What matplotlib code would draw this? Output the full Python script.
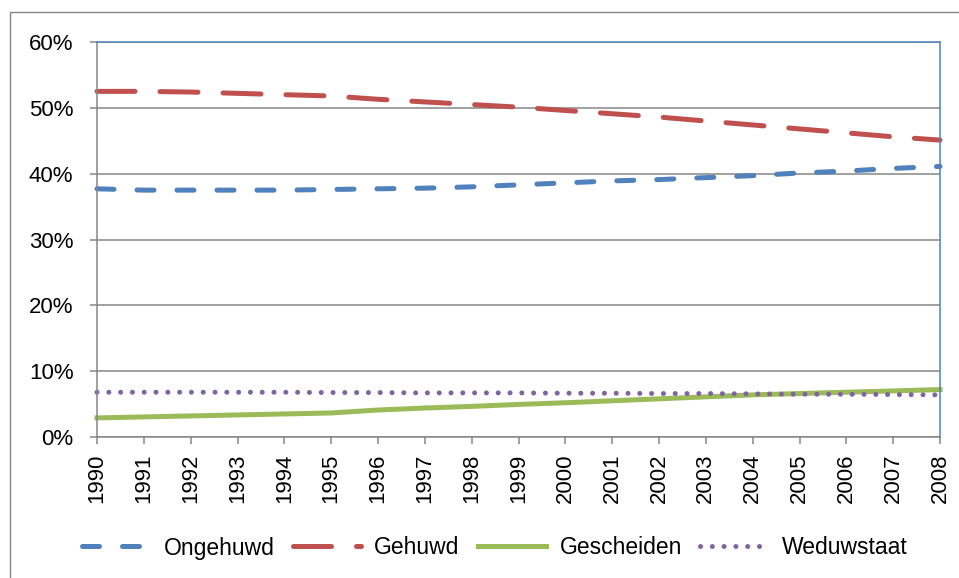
import matplotlib.pyplot as plt
from matplotlib.ticker import FuncFormatter
from matplotlib.patches import Rectangle

years = list(range(1990, 2009))
ongehuwd = [37.7, 37.5, 37.5, 37.5, 37.5, 37.6, 37.7, 37.8, 38.0, 38.3,
            38.6, 38.9, 39.1, 39.4, 39.7, 40.1, 40.4, 40.8, 41.1]
gehuwd = [52.5, 52.5, 52.4, 52.2, 52.0, 51.8, 51.3, 50.9, 50.5, 50.1,
          49.6, 49.1, 48.6, 48.0, 47.4, 46.8, 46.2, 45.6, 45.1]
gescheiden = [2.9, 3.05, 3.2, 3.35, 3.5, 3.65, 4.1, 4.4, 4.65, 4.95,
              5.2, 5.5, 5.8, 6.1, 6.4, 6.6, 6.8, 7.0, 7.2]
weduwstaat = [6.8, 6.8, 6.8, 6.8, 6.8, 6.75, 6.75, 6.7, 6.7, 6.7,
              6.65, 6.65, 6.6, 6.6, 6.55, 6.5, 6.5, 6.45, 6.4]

plt.rcParams['font.family'] = ['Liberation Sans', 'DejaVu Sans']

W, H = 959, 578
fig = plt.figure(figsize=(W / 100, H / 100), dpi=100)
ax = fig.add_axes([97 / W, 1 - 437 / H, (940 - 97) / W, (437 - 42) / H])

# outer chart border
fig.patches.append(Rectangle((10 / W, -0.1), 1.2, 1 - 12 / H + 0.1,
                             transform=fig.transFigure, fill=False,
                             edgecolor='#868686', linewidth=1))

lw = 3.6
l1, = ax.plot(years, ongehuwd, color='#4F81BD', lw=lw, label='Ongehuwd',
              dashes=(3.4, 4.6))
l2, = ax.plot(years, gehuwd, color='#C0504D', lw=lw, label='Gehuwd',
              dashes=(7.6, 5.0))
l3, = ax.plot(years, gescheiden, color='#9BBB59', lw=lw, label='Gescheiden')
l4, = ax.plot(years, weduwstaat, color='#8064A2', lw=lw, label='Weduwstaat',
              dashes=(0.01, 2.35))
for ln in (l1, l2, l4):
    ln.set_dash_capstyle('round')
for ln in (l1, l2, l3, l4):
    ln.set_clip_on(False)

ax.set_xlim(1990, 2008)
ax.set_ylim(0, 60)
ax.set_xticks(years)
ax.set_xticklabels([str(y) for y in years], rotation=90, fontsize=16)
ax.set_yticks(range(0, 61, 10))
ax.yaxis.set_major_formatter(FuncFormatter(lambda v, p: f'{int(v)}%'))
ax.tick_params(axis='y', labelsize=16, length=5, width=1.1,
               color='#868686', pad=12)
ax.tick_params(axis='x', length=5, width=1.1, color='#868686', pad=7)

ax.grid(axis='y', color='#868686', linewidth=1.1)
ax.set_axisbelow(True)
for side in ('left', 'bottom'):
    ax.spines[side].set_color('#868686')
    ax.spines[side].set_linewidth(1.1)
for side in ('top', 'right'):
    ax.spines[side].set_color('#4F81BD')
    ax.spines[side].set_linewidth(1.1)

fig.legend(handles=[l1, l2, l3, l4], loc='center',
           bbox_to_anchor=(0.516, 1 - 548 / H), ncol=4, frameon=False,
           fontsize=16.5, handlelength=2.95, handletextpad=0.6,
           columnspacing=0.8)

fig.savefig('out.png', dpi=100)
